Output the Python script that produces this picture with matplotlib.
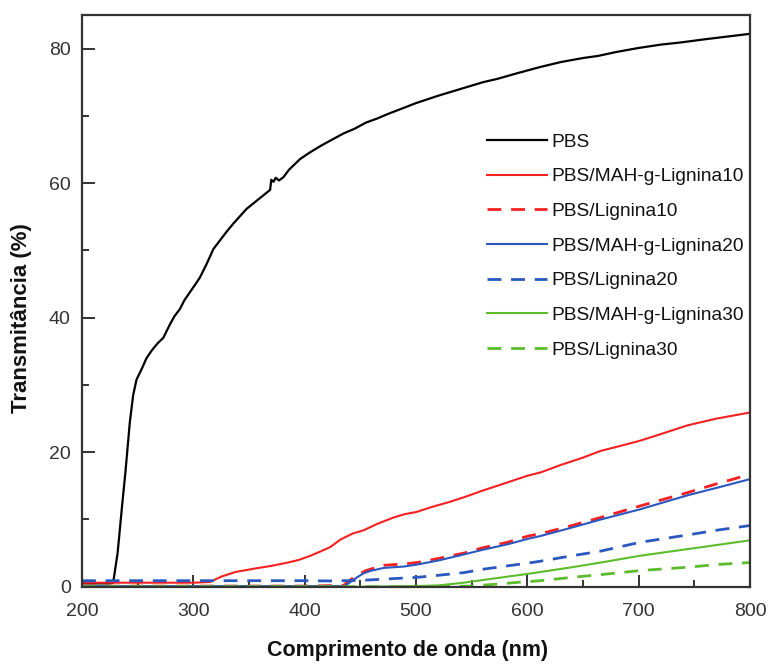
import numpy as np
import matplotlib
matplotlib.use("Agg")
import matplotlib.pyplot as plt
from matplotlib.ticker import MultipleLocator

plt.rcParams['font.family'] = ['Liberation Sans', 'DejaVu Sans']

# transmittance spectra (wavelength in nm, T in %)
wl_pbs = [200, 225, 228, 232, 236, 239, 243, 246, 249, 254, 258, 263, 268, 273, 276,
          279, 283, 288, 292, 297, 302, 306, 312, 318, 324, 330, 336, 342, 348, 354,
          360, 366, 369, 370, 372, 374, 377, 381, 386, 391, 396, 405, 415, 425, 435,
          445, 455, 465, 475, 486, 500, 520, 540, 560, 573, 590, 610, 630, 650, 663,
          680, 700, 720, 737, 760, 780, 800]
t_pbs = [0.5, 0.5, 0.6, 5.0, 12.0, 17.0, 24.5, 28.5, 30.8, 32.5, 34.0, 35.2, 36.2, 37.0, 38.0,
         39.0, 40.2, 41.3, 42.6, 43.8, 45.0, 46.0, 48.0, 50.2, 51.5, 52.8, 54.0, 55.1, 56.2, 57.0,
         57.8, 58.6, 59.0, 60.5, 60.2, 60.8, 60.4, 60.9, 62.0, 62.8, 63.6, 64.6, 65.6, 66.5, 67.4,
         68.1, 69.0, 69.6, 70.3, 71.0, 71.9, 73.0, 74.0, 75.0, 75.5, 76.3, 77.2, 78.0, 78.6, 78.9,
         79.5, 80.1, 80.6, 80.9, 81.4, 81.8, 82.2]

wl_m10 = [200, 250, 300, 315, 325, 338, 355, 370, 385, 395, 405, 415, 423, 432, 443, 453,
          466, 480, 490, 500, 515, 530, 543, 560, 582, 600, 612, 630, 650, 666, 685, 701,
          720, 744, 770, 800]
t_m10 = [0.6, 0.6, 0.6, 0.7, 1.5, 2.2, 2.7, 3.1, 3.6, 4.0, 4.6, 5.3, 5.9, 7.0, 7.9, 8.4,
         9.4, 10.3, 10.8, 11.1, 11.9, 12.6, 13.3, 14.3, 15.5, 16.5, 17.0, 18.1, 19.2, 20.2, 21.0, 21.7,
         22.7, 24.0, 25.0, 25.9]

wl_l10 = [200, 300, 400, 435, 440, 447, 455, 465, 472, 490, 501, 520, 543, 560, 582, 600,
          617, 640, 666, 701, 744, 770, 800]
t_l10 = [0.1, 0.1, 0.1, 0.2, 0.9, 1.7, 2.4, 2.9, 3.2, 3.4, 3.6, 4.2, 5.0, 5.8, 6.6, 7.5,
         8.1, 9.1, 10.3, 12.0, 14.0, 15.3, 16.7]

wl_m20 = [200, 400, 436, 447, 453, 459, 471, 489, 501, 520, 543, 560, 582, 600, 612, 640,
          666, 701, 744, 770, 800]
t_m20 = [0.1, 0.1, 0.1, 1.4, 2.0, 2.35, 2.8, 3.0, 3.3, 3.9, 4.8, 5.5, 6.3, 7.1, 7.55, 8.8,
         10.0, 11.5, 13.6, 14.7, 16.0]

wl_l20 = [200, 250, 300, 350, 400, 423, 450, 468, 501, 520, 543, 560, 582, 600, 612, 640,
          666, 701, 744, 770, 800]
t_l20 = [0.9, 0.9, 0.9, 0.9, 0.9, 0.86, 0.95, 1.1, 1.4, 1.7, 2.1, 2.6, 3.1, 3.5, 3.8, 4.6,
         5.3, 6.6, 7.7, 8.4, 9.1]

wl_m30 = [200, 450, 500, 520, 543, 560, 582, 600, 612, 640, 666, 701, 744, 770, 800]
t_m30 = [0.0, 0.0, 0.1, 0.2, 0.6, 1.0, 1.5, 1.9, 2.2, 2.9, 3.6, 4.6, 5.6, 6.2, 6.9]

wl_l30 = [200, 500, 550, 573, 595, 612, 640, 666, 701, 744, 770, 800]
t_l30 = [0.0, 0.0, 0.1, 0.4, 0.7, 0.9, 1.4, 1.8, 2.4, 2.9, 3.3, 3.6]

RED = '#f52020'
BLUE = '#2a58c0'
GREEN = '#5cbc2c'
DASH = (5, 3.5)

fig = plt.figure(figsize=(7.69, 6.66), dpi=100)
ax = fig.add_axes([0.1066, 0.119, 0.8687, 0.8585])

ax.plot(wl_pbs, t_pbs, color='black', lw=1.6, label='PBS')
ax.plot(wl_m10, t_m10, color=RED, lw=1.5, label='PBS/MAH-g-Lignina10')
ax.plot(wl_l10, t_l10, color=RED, lw=2.0, dashes=DASH, label='PBS/Lignina10')
ax.plot(wl_m20, t_m20, color=BLUE, lw=1.5, label='PBS/MAH-g-Lignina20')
ax.plot(wl_l20, t_l20, color=BLUE, lw=2.0, dashes=DASH, label='PBS/Lignina20')
ax.plot(wl_m30, t_m30, color=GREEN, lw=1.5, label='PBS/MAH-g-Lignina30')
ax.plot(wl_l30, t_l30, color=GREEN, lw=2.0, dashes=DASH, label='PBS/Lignina30')

ax.set_xlim(200, 800)
ax.set_ylim(0, 85)
ax.xaxis.set_major_locator(MultipleLocator(100))
ax.xaxis.set_minor_locator(MultipleLocator(50))
ax.yaxis.set_major_locator(MultipleLocator(20))
ax.yaxis.set_minor_locator(MultipleLocator(10))
ax.tick_params(which='both', direction='in', top=False, right=False,
               colors='#222222', labelcolor='#333333', labelsize=14, width=1.3)
ax.tick_params(which='major', length=9)
ax.tick_params(axis='x', which='major', pad=12)
ax.tick_params(axis='y', which='major', pad=8)
ax.tick_params(which='minor', length=5)
for sp in ax.spines.values():
    sp.set_linewidth(1.6)
    sp.set_color('#333333')

ax.set_xlabel('Comprimento de onda (nm)', fontsize=15.5, fontweight='bold',
              color='#111111')
ax.set_ylabel('Transmitância (%)', fontsize=16, fontweight='bold',
              color='#111111')
ax.xaxis.set_label_coords(0.488, -0.094)
ax.yaxis.set_label_coords(-0.075, 0.47)

leg = ax.legend(loc='upper left', bbox_to_anchor=(0.606, 0.793), frameon=False,
                fontsize=13.8, handlelength=3.15, handletextpad=0.2,
                labelspacing=0.9, borderpad=0, borderaxespad=0)
for t in leg.get_texts():
    t.set_color('#111111')

fig.savefig('out.png', dpi=100)
